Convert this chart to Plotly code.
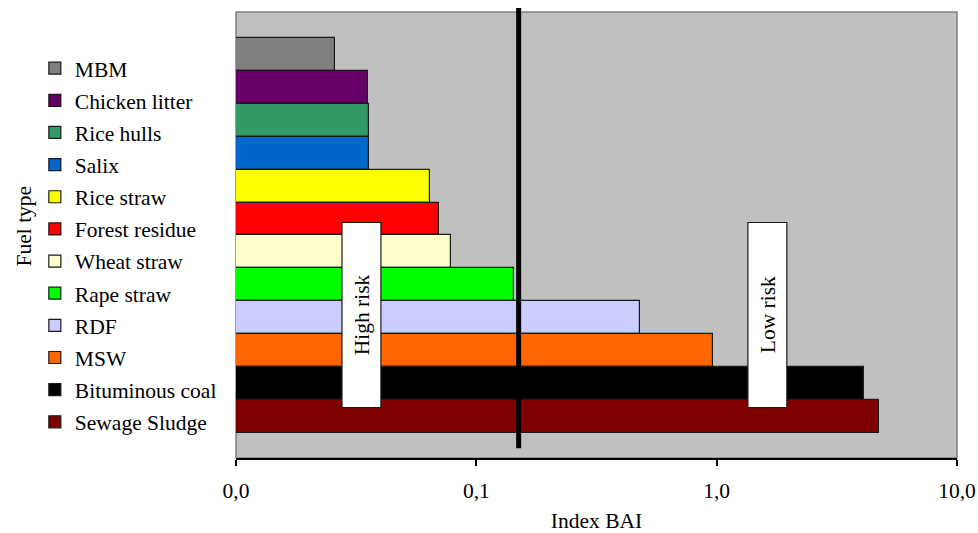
import plotly.graph_objects as go

fuels = ["MBM", "Chicken litter", "Rice hulls", "Salix", "Rice straw", "Forest residue",
         "Wheat straw", "Rape straw", "RDF", "MSW", "Bituminous coal", "Sewage Sludge"]
bai = [0.0258, 0.0354, 0.0358, 0.0358, 0.0641, 0.0700, 0.0785, 0.1436, 0.480, 0.966, 4.10, 4.74]
colors = ["#808080", "#660066", "#339966", "#0066CC", "#FFFF00", "#FF0000",
          "#FFFFCC", "#00FF00", "#CCCCFF", "#FF6600", "#000000", "#800000"]
threshold = 0.15
tick_vals = [0.01, 0.1, 1, 10]
tick_text = ["0,0", "0,1", "1,0", "10,0"]

FONT = "Liberation Serif"
FS = 21.5
fig = go.Figure()
for i, (f, v, c) in enumerate(zip(fuels, bai, colors)):
    fig.add_trace(go.Bar(
        x=[v], y=[f], orientation="h", name=f, width=1.0,
        marker=dict(color=c, line=dict(color="#1a1a1a", width=1.2)),
        legendgroup=f, showlegend=True,
    ))

fig.add_shape(type="line", xref="x", yref="paper", x0=threshold, x1=threshold,
              y0=0.022, y1=1.009, line=dict(color="black", width=5), layer="above")

boxes = [("High risk", 0.147, 0.201), ("Low risk", 0.710, 0.764)]
for txt, a, b in boxes:
    fig.add_shape(type="rect", xref="paper", yref="paper", x0=a, x1=b, y0=0.113, y1=0.528,
                  fillcolor="white", line=dict(color="#1a1a1a", width=1.2), layer="above")
    fig.add_annotation(xref="paper", yref="paper", x=(a + b) / 2, y=0.321, text=txt,
                       textangle=-90, showarrow=False, xanchor="center", yanchor="middle",
                       font=dict(family=FONT, size=FS, color="black"))

fig.add_annotation(xref="paper", yref="paper", x=-0.2935, y=0.52, text="Fuel type",
                   textangle=-90, showarrow=False, xanchor="center", yanchor="middle",
                   font=dict(family=FONT, size=FS, color="black"))

fig.update_layout(
    width=978, height=533,
    margin=dict(l=236, r=21, t=12, b=75, autoexpand=False),
    paper_bgcolor="white", plot_bgcolor="#C0C0C0",
    barmode="overlay", bargap=0,
    font=dict(family=FONT, size=FS, color="black"),
    showlegend=True,
    legend=dict(x=-0.279, xanchor="left", y=0.92, yanchor="top",
                traceorder="grouped", tracegroupgap=1.2,
                font=dict(family=FONT, size=FS, color="black"),
                bgcolor="rgba(0,0,0,0)", itemclick=False),
    xaxis=dict(type="log", range=[-2, 1], tickvals=tick_vals, ticktext=tick_text,
               automargin=False,
               showgrid=False, zeroline=False, showline=True, linecolor="black", linewidth=1.5,
               ticks="outside", ticklen=6, tickcolor="black", tickwidth=1.5,
               ticklabelstandoff=6,
               tickfont=dict(family=FONT, size=FS),
               title=dict(text="Index BAI", font=dict(family=FONT, size=FS), standoff=21)),
    yaxis=dict(type="category", categoryorder="array", categoryarray=list(reversed(fuels)),
               automargin=False,
               range=[-1.26, 12.29], showticklabels=False, showgrid=False, zeroline=False,
               showline=False, ticks=""),
)
fig.add_shape(type="rect", xref="paper", yref="paper", x0=0, x1=1, y0=0, y1=1,
              line=dict(color="#808080", width=1.5), layer="below")

fig.write_html(
    "out.html",
    config={"displayModeBar": False},
    post_script="document.body.style.margin='0px';document.documentElement.style.overflow='hidden';document.body.style.overflow='hidden';",
)
